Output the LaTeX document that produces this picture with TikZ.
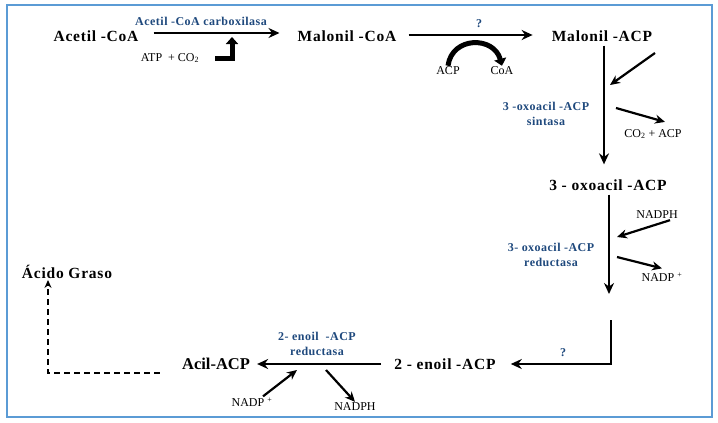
\documentclass[tikz,border=0pt]{standalone}
\usepackage{fontspec}
\setmainfont{Liberation Serif}
\usetikzlibrary{arrows.meta,positioning}
\definecolor{frameblue}{RGB}{91,155,213}
\definecolor{enzblue}{RGB}{31,73,125}

\begin{document}
\begin{tikzpicture}[
  x=1pt, y=-1pt,
  every node/.style={align=center, inner sep=1pt},
  compound/.style={font=\fontsize{15.5}{15.5}\selectfont\bfseries\addfontfeatures{LetterSpace=5}},
  enzyme/.style={text=enzblue, font=\fontsize{12}{15}\selectfont\bfseries\addfontfeatures{LetterSpace=4}},
  small/.style={font=\fontsize{12}{12}\selectfont},
  arrow/.style={-{Stealth[length=11pt, width=10pt]}, line width=2.4pt},
  side/.style={-{Stealth[length=10pt, width=9pt]}, line width=2.2pt},
  heavy/.style={-{Triangle[length=7pt, width=12pt]}, line width=5pt},
  dasharrow/.style={-{Stealth[length=8pt, width=7pt]}, line width=2.2pt, dash pattern=on 6pt off 4pt}
]
\useasboundingbox (0,0) rectangle (718,423);
\draw[frameblue, line width=2.5pt] (7,5) rectangle (712,417);

% main compounds
\node[compound] (acetil) at (96,36) {Acetil -CoA};
\node[compound] (malcoa) at (347,36) {Malonil -CoA};
\node[compound] (malacp) at (602,36) {Malonil -ACP};
\node[compound] (oxo) at (608,185) {3 - oxoacil -ACP};
\node[compound] (enoil) at (445,364) {2 - enoil -ACP};
\node[compound, font=\fontsize{16.5}{16.5}\selectfont\bfseries] (acil) at (216,364) {Acil-ACP};
\node[compound] (graso) at (67,272) {Ácido Graso};

% enzymes
\node[enzyme] (acc) at (201,21) {Acetil -CoA carboxilasa};
\node[enzyme] (q1) at (479,24) {?};
\node[enzyme] (sint) at (546,114) {3 -oxoacil -ACP\\sintasa};
\node[enzyme] (red) at (551,255) {3- oxoacil -ACP\\reductasa};
\node[enzyme] (q2) at (563,353) {?};
\node[enzyme] (enred) at (317,344) {2- enoil \ -ACP\\reductasa};

% cofactors
\node[small] (atp) at (170,58) {ATP \ + CO\textsubscript{2}};
\node[small] (acp) at (448,71) {ACP};
\node[small] (coa) at (502,71) {CoA};
\node[small] (co2) at (653,134) {CO\textsubscript{2} + ACP};
\node[small] (nadph) at (657,215) {NADPH};
\node[small] (nadp) at (662,277) {NADP \textsuperscript{+}};
\node[small] (nadp2) at (252,402) {NADP \textsuperscript{+}};
\node[small] (nadph2) at (355,407) {NADPH};

% free ends
\coordinate (accin) at (232,37);
\coordinate (sintin) at (655,53);
\coordinate (sintend) at (610,85);
\coordinate (sintout) at (616,108);
\coordinate (redin) at (617,237);
\coordinate (redout) at (617,257);
\coordinate (redend) at (609,294);
\coordinate (turn) at (611,320);
\coordinate (enin) at (297,370);
\coordinate (enout) at (326,370);

\draw[arrow] ([xshift=14pt, yshift=3pt]acetil.east) -- ([xshift=-17pt, yshift=3pt]malcoa.west);
\draw[heavy] ([xshift=15pt]atp.east) -| (accin);
\draw[arrow] ([xshift=11pt, yshift=1pt]malcoa.east) -- ([xshift=-18pt, yshift=1pt]malacp.west);
\draw[heavy] (acp.north) .. controls (452,36) and (494,36) .. (coa.north);
\draw[arrow, shorten <=3pt, shorten >=14pt] ([xshift=2pt]malacp.south) -- ([xshift=-4pt]oxo.north);
\draw[side] (sintin) -- (sintend);
\draw[side] (sintout) -- ([xshift=12pt, yshift=6pt]co2.north);
\draw[arrow, shorten <=3pt] ([xshift=1pt]oxo.south) -- (redend);
\draw[side] ([xshift=13pt]nadph.south) -- (redin);
\draw[side] (redout) -- ([yshift=3pt]nadp.north);
\draw[arrow, shorten >=14pt] (turn) |- (enoil.east);
\draw[arrow, shorten <=12pt, shorten >=6pt] (enoil.west) -- (acil.east);
\draw[side] ([xshift=11pt]nadp2.north) -- (enin);
\draw[side] (enout) -- (nadph2.north);
\draw[dasharrow] ([xshift=-21pt, yshift=-9pt]acil.west) -| ([xshift=-19pt]graso.south);

\end{tikzpicture}
\end{document}
